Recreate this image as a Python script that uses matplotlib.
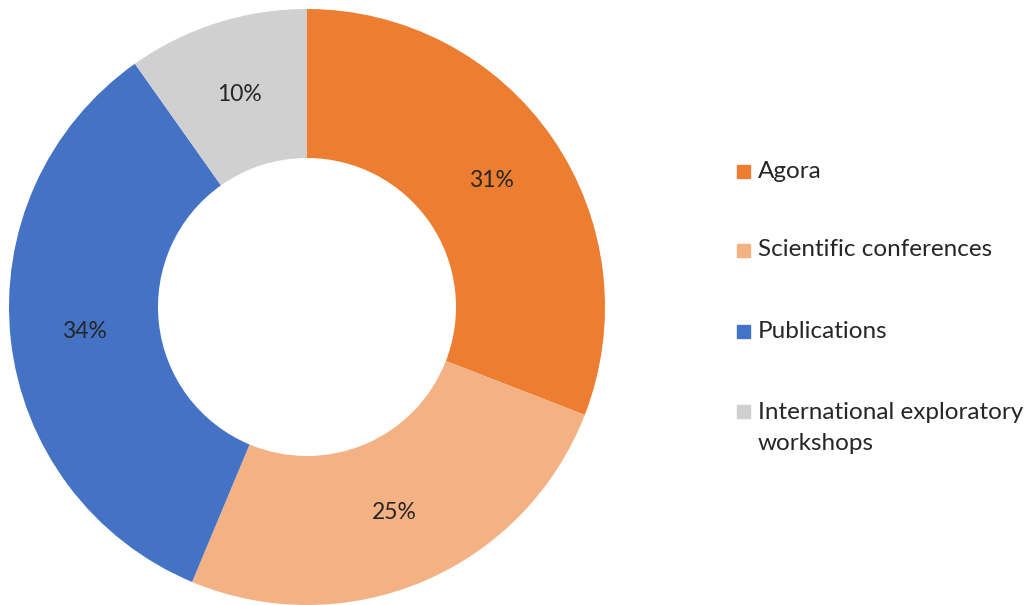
import numpy as np
import matplotlib.pyplot as plt
from matplotlib.patches import Rectangle

# chart data (shares, labels show them rounded)
labels = ["Agora", "Scientific conferences", "Publications", "International exploratory\nworkshops"]
shares = [30.9, 25.4, 33.9, 9.8]
colors = ["#ED7D31", "#F4B183", "#4472C4", "#D0D0D0"]

plt.rcParams['font.family'] = ['Lato', 'DejaVu Sans']

fig = plt.figure(figsize=(10.35, 6.05), dpi=100)
ax = fig.add_axes([9 / 1035, 0, 596 / 1035, 596 / 605])

wedges, texts = ax.pie(shares, colors=colors, startangle=90, counterclock=False,
                       radius=1, wedgeprops=dict(width=0.5, linewidth=0))
ax.set_xlim(-1, 1)
ax.set_ylim(-1, 1)
ax.set_aspect('equal')
ax.axis('off')

# percentage labels in the middle of the ring
for w, v in zip(wedges, shares):
    ang = np.deg2rad((w.theta1 + w.theta2) / 2)
    ax.text(0.75 * np.cos(ang), 0.75 * np.sin(ang), f"{v:.0f}%",
            ha='center', va='center', fontsize=16.5, color='#262626')

# legend built by hand so the square lines up with the first text line
ys = [171, 250, 331, 411]
for lab, c, y in zip(labels, colors, ys):
    fy = 1 - y / 605
    fig.patches.append(Rectangle((737 / 1035, fy - 6.5 / 605), 13 / 1035, 13 / 605,
                                 transform=fig.transFigure, color=c, figure=fig))
    if '\n' in lab:
        fig.text(758 / 1035, fy + 9 / 605, lab, ha='left', va='top',
                 fontsize=17.5, color='#262626', linespacing=1.6)
    else:
        fig.text(758 / 1035, fy, lab, ha='left', va='center',
                 fontsize=17.5, color='#262626')

fig.savefig("out.png", dpi=100)
